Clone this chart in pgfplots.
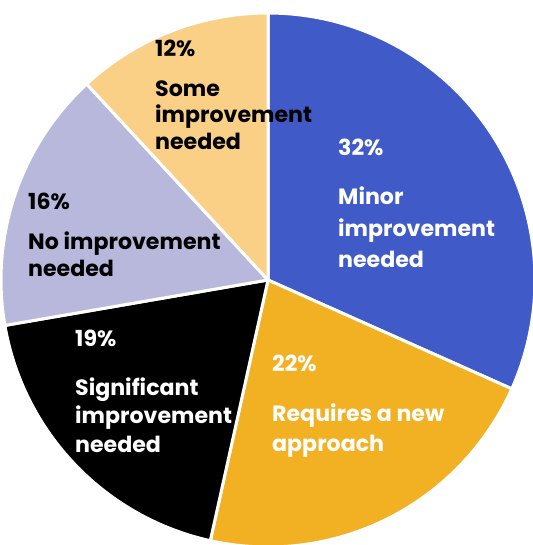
\documentclass[border=0pt]{standalone}
\usepackage{fontspec}
\setmainfont{Poppins}
\usepackage{pgfplots}
\pgfplotsset{compat=1.18}
\definecolor{cblue}{RGB}{64,91,200}
\definecolor{corange}{RGB}{241,177,34}
\definecolor{clav}{RGB}{184,184,221}
\definecolor{clight}{RGB}{250,208,135}
\begin{document}
\begin{tikzpicture}
\begin{axis}[x=1bp,y=1bp,xmin=0,xmax=533,ymin=0,ymax=545,hide axis,clip=true,
  scale only axis]
\pgfmathsetmacro\angA{90}
\pgfplotsforeachungrouped \v/\c in {32/cblue,22/corange,19/black,16/clav,12/clight}{%
  \pgfmathsetmacro\angB{\angA-\v*360/101}%
  \edef\temp{\noexpand\addplot[fill=\c,draw=white,line width=3bp,domain=\angB:\angA,samples=120,line join=round]
    ({268+267*cos(x)},{265+267*sin(x)}) -- (axis cs:268,265) -- cycle;}%
  \temp
  \global\let\angA\angB
}
\tikzset{lb/.style={anchor=base west,inner sep=0pt,font=\bfseries\fontsize{22.2}{26}\selectfont}}
% 12%
\node[lb,text=black] at (axis cs:155,488) {12\%};
\node[lb,text=black] at (axis cs:155,448) {Some};
\node[lb,text=black] at (axis cs:155,422) {improvement};
\node[lb,text=black] at (axis cs:155,395) {needed};
% 32%
\node[lb,text=white] at (axis cs:338,389) {32\%};
\node[lb,text=white] at (axis cs:338,340) {Minor};
\node[lb,text=white] at (axis cs:338,308) {improvement};
\node[lb,text=white] at (axis cs:338,277) {needed};
% 22%
\node[lb,text=white] at (axis cs:272,173) {22\%};
\node[lb,text=white] at (axis cs:272,123) {Requires a new};
\node[lb,text=white] at (axis cs:272,93) {approach};
% 19%
\node[lb,text=white] at (axis cs:75,198) {19\%};
\node[lb,text=white] at (axis cs:75,149) {Significant};
\node[lb,text=white] at (axis cs:75,121) {improvement};
\node[lb,text=white] at (axis cs:75,92) {needed};
% 16%
\node[lb,text=black] at (axis cs:28,335) {16\%};
\node[lb,text=black] at (axis cs:28,295) {No improvement};
\node[lb,text=black] at (axis cs:28,268) {needed};
\end{axis}
\pgfresetboundingbox
\useasboundingbox (0,0) rectangle (533bp,545bp);
\end{tikzpicture}
\end{document}
